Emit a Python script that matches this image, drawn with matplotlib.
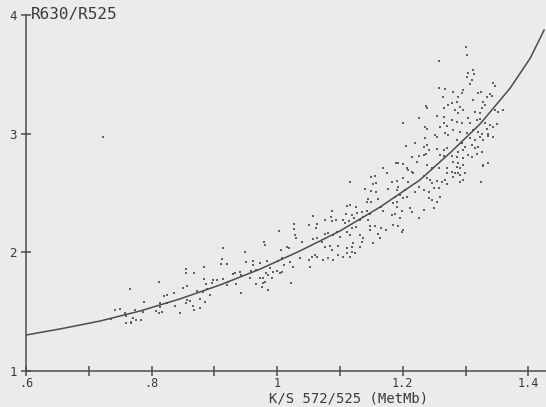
import numpy as np
import matplotlib.pyplot as plt

plt.rcParams['font.family'] = 'DejaVu Sans Mono'

# fitted calibration curve, K/S 572/525 vs R630/R525
fit_ks = [0.600, 0.654, 0.718, 0.782, 0.845, 0.909, 0.973, 1.036,
          1.100, 1.164, 1.227, 1.275, 1.323, 1.371, 1.403, 1.425]
fit_ratio = [1.303, 1.354, 1.421, 1.506, 1.607, 1.725, 1.859, 2.011,
             2.180, 2.382, 2.609, 2.837, 3.081, 3.384, 3.637, 3.873]

# measured samples, grouped by K/S range
ks_a = [0.854, 0.854, 0.868, 0.884, 0.811, 0.766, 0.884, 0.886,
        0.856, 0.850, 0.873, 0.882, 0.888, 0.835, 0.824, 0.820,
        0.788, 0.813, 0.824, 0.856, 0.861, 0.855, 0.877, 0.885,
        0.837, 0.866, 0.877, 0.868, 0.742, 0.750, 0.774, 0.787,
        0.807, 0.813, 0.816, 0.811, 0.758, 0.759, 0.770, 0.775,
        0.768, 0.783, 0.759, 0.768, 0.846, 0.735, 0.723]
ratio_a = [1.857, 1.823, 1.823, 1.879, 1.747, 1.688, 1.773, 1.730,
           1.716, 1.697, 1.677, 1.668, 1.691, 1.655, 1.640, 1.634,
           1.579, 1.570, 1.570, 1.598, 1.592, 1.570, 1.604, 1.584,
           1.548, 1.548, 1.528, 1.514, 1.514, 1.522, 1.514, 1.500,
           1.508, 1.537, 1.500, 1.486, 1.491, 1.463, 1.444, 1.430,
           1.415, 1.430, 1.407, 1.402, 1.486, 1.438, 2.970]

ks_b = [1.026, 1.027, 1.028, 1.030, 1.003, 1.051, 0.979, 0.981,
        0.914, 0.949, 1.015, 1.018, 1.006, 1.039, 0.912, 0.911,
        0.920, 0.951, 0.962, 0.961, 0.973, 0.983, 1.007, 1.002,
        1.011, 1.020, 1.025, 1.036, 1.050, 1.052, 0.989, 0.993,
        0.999, 1.004, 1.007, 0.959, 0.967, 0.982, 0.986, 0.978,
        0.929, 0.933, 0.940, 0.943, 0.957, 0.973, 0.991, 0.898,
        0.904, 0.914, 0.896, 0.922, 0.920, 0.935, 0.967, 0.978,
        0.981, 0.975, 0.986, 1.022, 0.943, 0.893]
ratio_b = [2.236, 2.196, 2.146, 2.118, 2.180, 2.230, 2.084, 2.062,
           2.039, 2.005, 2.047, 2.034, 2.019, 2.084, 1.944, 1.901,
           1.901, 1.916, 1.927, 1.893, 1.907, 1.927, 1.949, 1.927,
           1.893, 1.921, 1.879, 1.949, 1.935, 1.879, 1.870, 1.837,
           1.843, 1.823, 1.837, 1.843, 1.851, 1.823, 1.809, 1.781,
           1.815, 1.823, 1.832, 1.809, 1.781, 1.786, 1.781, 1.767,
           1.767, 1.773, 1.739, 1.752, 1.725, 1.730, 1.730, 1.739,
           1.752, 1.705, 1.682, 1.744, 1.655, 1.640]

ks_c = [1.169, 1.175, 1.156, 1.150, 1.116, 1.158, 1.153, 1.140,
        1.150, 1.158, 1.177, 1.145, 1.143, 1.150, 1.161, 1.111,
        1.116, 1.125, 1.087, 1.086, 1.110, 1.119, 1.127, 1.135,
        1.143, 1.148, 1.169, 1.166, 1.057, 1.063, 1.062, 1.076,
        1.088, 1.094, 1.104, 1.108, 1.115, 1.122, 1.132, 1.137,
        1.145, 1.148, 1.156, 1.147, 1.166, 1.173, 1.119, 1.125,
        1.111, 1.116, 1.081, 1.076, 1.089, 1.095, 1.100, 1.132,
        1.137, 1.135, 1.161, 1.164, 1.063, 1.057, 1.071, 1.076,
        1.084, 1.087, 1.097, 1.111, 1.119, 1.121, 1.132, 1.153,
        1.060, 1.055, 1.063, 1.073, 1.081, 1.089, 1.097, 1.105,
        1.111, 1.119, 1.124, 1.116]
ratio_c = [2.708, 2.671, 2.643, 2.637, 2.595, 2.586, 2.575, 2.531,
           2.519, 2.511, 2.531, 2.447, 2.426, 2.426, 2.447, 2.390,
           2.399, 2.379, 2.351, 2.300, 2.323, 2.314, 2.329, 2.342,
           2.351, 2.323, 2.351, 2.379, 2.306, 2.238, 2.202, 2.272,
           2.266, 2.272, 2.272, 2.244, 2.266, 2.287, 2.272, 2.295,
           2.272, 2.222, 2.222, 2.188, 2.202, 2.188, 2.202, 2.216,
           2.174, 2.146, 2.160, 2.154, 2.146, 2.174, 2.131, 2.146,
           2.118, 2.089, 2.154, 2.118, 2.118, 2.110, 2.089, 2.047,
           2.053, 2.019, 2.053, 2.034, 2.047, 2.076, 2.047, 2.081,
           1.977, 1.963, 1.963, 1.935, 1.949, 1.935, 1.977, 1.963,
           1.992, 2.005, 1.997, 1.958]

ks_d = [1.258, 1.258, 1.267, 1.264, 1.237, 1.238, 1.265, 1.272,
        1.226, 1.254, 1.265, 1.201, 1.235, 1.238, 1.259, 1.265,
        1.271, 1.251, 1.254, 1.267, 1.272, 1.235, 1.205, 1.219,
        1.233, 1.238, 1.242, 1.254, 1.265, 1.270, 1.214, 1.225,
        1.222, 1.233, 1.237, 1.259, 1.265, 1.189, 1.193, 1.201,
        1.206, 1.209, 1.214, 1.217, 1.239, 1.246, 1.257, 1.270,
        1.271, 1.182, 1.190, 1.201, 1.209, 1.233, 1.238, 1.243,
        1.246, 1.254, 1.262, 1.267, 1.270, 1.193, 1.190, 1.204,
        1.196, 1.225, 1.233, 1.241, 1.249, 1.257, 1.219, 1.188,
        1.201, 1.206, 1.190, 1.184, 1.241, 1.246, 1.254, 1.259,
        1.190, 1.198, 1.211, 1.214, 1.233, 1.249, 1.182, 1.188,
        1.196, 1.225, 1.184, 1.193, 1.201, 1.198]
ratio_d = [3.612, 3.382, 3.376, 3.311, 3.235, 3.213, 3.218, 3.241,
           3.134, 3.151, 3.142, 3.087, 3.058, 3.039, 3.058, 3.087,
           3.067, 2.988, 2.974, 3.003, 2.988, 2.966, 2.898, 2.918,
           2.890, 2.904, 2.862, 2.870, 2.862, 2.881, 2.805, 2.814,
           2.763, 2.820, 2.826, 2.820, 2.814, 2.750, 2.750, 2.741,
           2.708, 2.693, 2.679, 2.666, 2.736, 2.708, 2.713, 2.708,
           2.666, 2.595, 2.601, 2.624, 2.595, 2.645, 2.629, 2.609,
           2.581, 2.601, 2.590, 2.609, 2.573, 2.553, 2.525, 2.525,
           2.483, 2.553, 2.525, 2.511, 2.539, 2.544, 2.511, 2.468,
           2.455, 2.468, 2.426, 2.413, 2.455, 2.441, 2.426, 2.468,
           2.384, 2.348, 2.371, 2.342, 2.356, 2.376, 2.314, 2.320,
           2.286, 2.286, 2.230, 2.224, 2.188, 2.174]

ks_e = [1.301, 1.303, 1.304, 1.311, 1.313, 1.303, 1.310, 1.307,
        1.344, 1.347, 1.339, 1.334, 1.342, 1.296, 1.294, 1.280,
        1.324, 1.320, 1.288, 1.286, 1.278, 1.291, 1.283, 1.296,
        1.288, 1.312, 1.328, 1.331, 1.326, 1.315, 1.323, 1.347,
        1.352, 1.360, 1.278, 1.286, 1.294, 1.304, 1.307, 1.318,
        1.323, 1.331, 1.339, 1.344, 1.350, 1.280, 1.291, 1.302,
        1.312, 1.320, 1.326, 1.334, 1.336, 1.307, 1.315, 1.323,
        1.328, 1.336, 1.343, 1.286, 1.294, 1.299, 1.296, 1.288,
        1.310, 1.315, 1.320, 1.326, 1.318, 1.278, 1.286, 1.296,
        1.304, 1.310, 1.280, 1.288, 1.296, 1.286, 1.291, 1.328,
        1.336, 1.327, 1.278, 1.283, 1.288, 1.280, 1.291, 1.299,
        1.296, 1.291, 1.324]
ratio_e = [3.732, 3.662, 3.513, 3.536, 3.502, 3.479, 3.452, 3.418,
           3.424, 3.401, 3.334, 3.311, 3.317, 3.367, 3.340, 3.353,
           3.353, 3.345, 3.311, 3.269, 3.255, 3.227, 3.199, 3.199,
           3.171, 3.283, 3.269, 3.241, 3.213, 3.185, 3.176, 3.199,
           3.185, 3.199, 3.115, 3.100, 3.087, 3.129, 3.087, 3.115,
           3.121, 3.087, 3.073, 3.058, 3.081, 3.030, 3.016, 3.003,
           3.030, 3.016, 2.997, 3.036, 2.997, 2.960, 2.946, 2.974,
           2.946, 2.980, 2.969, 2.946, 2.918, 2.890, 2.862, 2.848,
           2.904, 2.876, 2.890, 2.848, 2.828, 2.811, 2.805, 2.792,
           2.820, 2.805, 2.763, 2.750, 2.736, 2.721, 2.708, 2.736,
           2.750, 2.727, 2.679, 2.666, 2.671, 2.637, 2.651, 2.666,
           2.609, 2.595, 2.595]

ks = ks_a + ks_b + ks_c + ks_d + ks_e
ratio = ratio_a + ratio_b + ratio_c + ratio_d + ratio_e

x_ticks = [0.6, 0.7, 0.8, 0.9, 1.0, 1.1, 1.2, 1.3, 1.4]
x_labels = ['.6', '', '.8', '', '1', '', '1.2', '', '1.4']
y_ticks = [1, 2, 3, 4]

paper = '#ebebe9'
ink = '#4c4c4c'

fig = plt.figure(figsize=(5.46, 4.07), dpi=100, facecolor=paper)
ax = fig.add_axes([0.0476, 0.0885, 0.9524, 0.8747], facecolor=paper)

ax.scatter(ks, ratio, s=4, marker='s', color='#606060', linewidths=0)
ax.plot(fit_ks, fit_ratio, color=ink, lw=1.1)

ax.set_xlim(0.6, 1.428)
ax.set_ylim(1, 4)
for side in ('top', 'right'):
    ax.spines[side].set_visible(False)
for side in ('left', 'bottom'):
    ax.spines[side].set_color(ink)
    ax.spines[side].set_linewidth(1.1)

ax.set_xticks(x_ticks)
ax.set_xticklabels(x_labels)
ax.set_yticks(y_ticks)
ax.tick_params(direction='inout', length=7, width=1.1, color=ink,
               labelsize=8.5, labelcolor='#3a3a3a', pad=1)
ax.tick_params(axis='y', pad=3, labelsize=9)

ax.text(0.009, 1.0, 'R630/R525', transform=ax.transAxes, ha='left',
        va='center', fontsize=11.5, color='#3a3a3a')
ax.set_xlabel('K/S 572/525 (MetMb)', fontsize=10, color='#3a3a3a',
              va='top')
ax.xaxis.set_label_coords(0.62, -0.058)

fig.savefig('out.png', dpi=100, facecolor=paper)
